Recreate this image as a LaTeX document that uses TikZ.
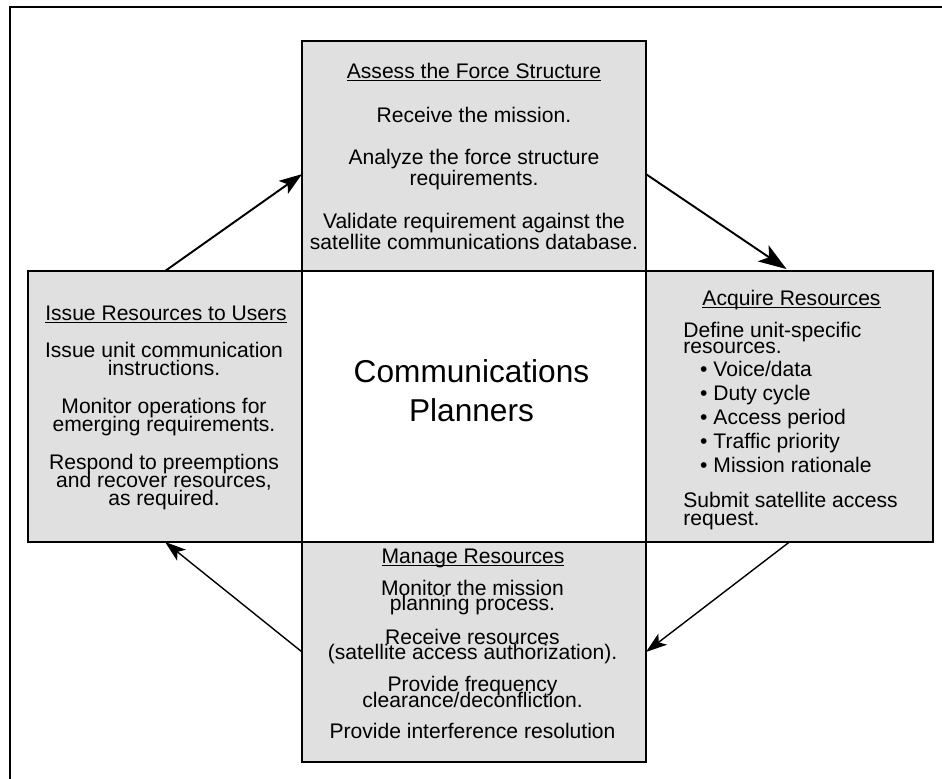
\documentclass[tikz,border=0pt]{standalone}
\usepackage{fontspec}
\setmainfont{Liberation Sans}
\usepackage{tikz}
\usetikzlibrary{arrows.meta,positioning}
\definecolor{boxgray}{HTML}{E0E0E0}
\lineskiplimit=-100pt

\begin{document}
\begin{tikzpicture}[x=0.02cm,y=-0.02cm,
  box/.style={draw,line width=1.1pt,fill=boxgray,outer sep=0pt,inner sep=0pt,minimum width=6.88cm},
  ttl/.style={inner sep=0pt,anchor=base,font=\fontsize{12}{14}\selectfont},
  txt/.style={inner sep=0pt,anchor=north,align=center},
  flow/.style={line width=1.1pt,-{Stealth[length=13pt,width=9pt,inset=3pt]}},
  back/.style={line width=0.8pt,-{Stealth[length=12pt,width=8pt,inset=3pt]}}]
\useasboundingbox (0,0) rectangle (942,778);
% outer frame
\draw[line width=1.1pt] (960,7) -- (10,7) -- (10,800);

% the five boxes around the planners
\node[box,fill=white,minimum height=5.42cm] (CP) at (474,406.5) {};
\node[box,minimum height=4.6cm,above=0pt of CP] (AF) {};
\node[box,minimum height=4.4cm,below=0pt of CP] (MR) {};
\node[box,minimum width=5.48cm,minimum height=5.42cm,left=0pt of CP] (IR) {};
\node[box,minimum width=5.74cm,minimum height=5.42cm,right=0pt of CP] (AR) {};

% center
\node[txt,font=\fontsize{18}{22.1}\selectfont] (CPt) at (471.5,359) {Communications\\Planners};

% top
\node[ttl] (AFh) at (474,78) {\underline{\smash{Assess the Force Structure}}};
\node[txt,font=\fontsize{12}{12.1}\selectfont] (AFb) at (474,106.5)
  {Receive the mission.\\[12pt]
   Analyze the force structure\\requirements.\\[12pt]
   Validate requirement against the\\satellite communications database.};

% right
\node[ttl] (ARh) at (791.5,305) {\underline{\smash{Acquire Resources}}};
\node[txt,anchor=north west,align=left,font=\fontsize{12}{8.9}\selectfont] (ARb) at (683,321.8)
  {Define unit-specific\\resources.\\[4.7pt]
   \hspace*{9.6pt}• Voice/data\\[4.76pt]
   \hspace*{9.6pt}• Duty cycle\\[4.76pt]
   \hspace*{9.6pt}• Access period\\[4.76pt]
   \hspace*{9.6pt}• Traffic priority\\[4.76pt]
   \hspace*{9.6pt}• Mission rationale\\[10.55pt]
   Submit satellite access\\[1.4pt]request.};

% bottom
\node[ttl] (MRh) at (473,563.3) {\underline{\smash{Manage Resources}}};
\node[txt,font=\fontsize{12}{8.8}\selectfont] (MRb) at (472.5,579.8)
  {Monitor the mission\\planning process.\\[10.1pt]
   Receive resources\\(satellite access authorization).\\[9.6pt]
   Provide frequency\\clearance/deconfliction.\\[9.1pt]
   Provide interference resolution};

% left
\node[ttl] (IRh) at (166,320) {\underline{\smash{Issue Resources to Users}}};
\node[txt,font=\fontsize{12}{10.4}\selectfont] (IRb) at (164,341.8)
  {Issue unit communication\\instructions.\\[11.1pt]
   Monitor operations for\\emerging requirements.\\[11pt]
   Respond to preemptions\\and recover resources,\\as required.};

% cycle
\draw[flow] (IR.north) -- (AF.186);
\draw[flow,-{Stealth[length=16pt,width=11pt,inset=4pt]},shorten >=2pt] (AF.-6) -- (AR.north);
\draw[back] (AR.south) -- (MR.east);
\draw[back] (MR.west) -- (IR.south);
\end{tikzpicture}
\end{document}
